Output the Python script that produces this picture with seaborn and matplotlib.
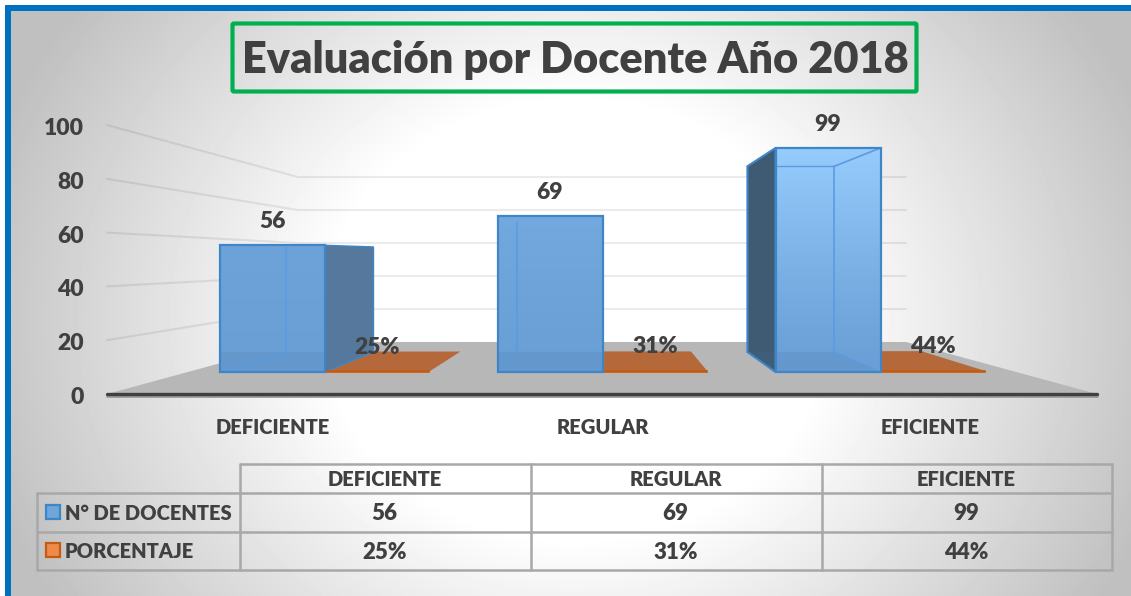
import numpy as np
import pandas as pd
import matplotlib.pyplot as plt
from matplotlib.patches import Polygon, Rectangle, FancyBboxPatch
from matplotlib.colors import LinearSegmentedColormap
import seaborn as sns

categorias = ['DEFICIENTE', 'REGULAR', 'EFICIENTE']
docentes = [56, 69, 99]
porcentaje = [0.25, 0.31, 0.44]
porcentaje_txt = ['25%', '31%', '44%']
serie_docentes = 'N° DE DOCENTES'
serie_porcentaje = 'PORCENTAJE'
ticks_y = [0, 20, 40, 60, 80, 100]
titulo = 'Evaluación por Docente Año 2018'

W, H = 1131, 596
GRIS = '#404040'
FUENTE = 'Lato'
PESO = 'heavy'

sns.set_theme(style='white')
plt.rcParams['font.family'] = [FUENTE, 'DejaVu Sans']
plt.rcParams['font.weight'] = PESO

fig = plt.figure(figsize=(W / 100, H / 100), dpi=100)
fig.patch.set_facecolor('white')


def caja(x0, y0, x1, y1):
    # rect in pixels from the top left -> figure fraction
    return [x0 / W, 1 - y1 / H, (x1 - x0) / W, (y1 - y0) / H]


# fondo / titulo / suelo / tabla, in pixel coords
fondo = fig.add_axes([0, 0, 1, 1], zorder=0)
fondo.set_xlim(0, W)
fondo.set_ylim(H, 0)
fondo.axis('off')

xx, yy = np.meshgrid(np.arange(W), np.arange(H))
d = np.sqrt((xx - 575) ** 2 + (1.15 * (yy - 320)) ** 2)
gris = np.clip(1 - 0.00068 * (d - 250), 0.75, 1)
fondo.imshow(gris, cmap='gray', vmin=0, vmax=1, extent=(0, W, H, 0), aspect='auto', zorder=0)
# marco azul
fondo.add_patch(Rectangle((0, 0), 5, H, color='white', zorder=1))
fondo.add_patch(Rectangle((0, 0), W, 5, color='white', zorder=1))
fondo.add_patch(Rectangle((5, 5), 5.5, H, color='#0070C0', lw=0, zorder=2))
fondo.add_patch(Rectangle((5, 5), W, 6, color='#0070C0', lw=0, zorder=2))

fondo.add_patch(FancyBboxPatch((232.5, 23.5), 684, 68, boxstyle='round,pad=0,rounding_size=1.5',
                               fc='none', ec='#00B050', lw=3, zorder=3))
fondo.text(575, 60, titulo, fontsize=31.2, color=GRIS, ha='center', va='center', fontweight=PESO)

# suelo y lineas de la pared
cerca_0, cerca_k = 394, 2.69
fondo_0, fondo_k = 342, 1.65
fondo.add_patch(Polygon([(107, 394), (298, 342), (906, 342), (1097, 394)], fc='#b7b7b7', ec='none', zorder=2))
for v in ticks_y[1:]:
    y0 = cerca_0 - cerca_k * v
    y1 = fondo_0 - fondo_k * v
    fondo.plot([107, 298, 906], [y0, y1, y1], color='black', alpha=0.08, lw=1.5, zorder=2)
fondo.plot([107, 1097], [395.5, 395.5], color='#9a9a9a', lw=2, zorder=3)
fondo.plot([107, 1097], [394, 394], color='#404040', lw=2.4, zorder=3, solid_capstyle='round')

# tabla
col_x = [240, 531, 822, 1112]
fil_y = [464, 493, 532, 570]
kw = dict(color='#a8a8a8', lw=1.8, zorder=3)
fondo.plot([240, 1112], [464, 464], **kw)
for y in fil_y[1:]:
    fondo.plot([37, 1112], [y, y], **kw)
for x in col_x:
    fondo.plot([x, x], [464, 570], **kw)
fondo.plot([37, 37], [493, 570], **kw)
filas = [categorias, [str(v) for v in docentes], porcentaje_txt]
for i, fila in enumerate(filas):
    yc = (fil_y[i] + fil_y[i + 1]) / 2 + 1.5
    for j, txt in enumerate(fila):
        fondo.text((col_x[j] + col_x[j + 1]) / 2 - 1, yc, txt, fontsize=14.5 if i == 0 else 16, color=GRIS,
                   ha='center', va='center')
for y, nombre, fc, ec in [(512, serie_docentes, '#6fa5d8', '#3f86c8'), (550, serie_porcentaje, '#ee8a4a', '#c55a11')]:
    fondo.add_patch(Rectangle((46, y - 7), 13.5, 14, fc=fc, ec=ec, lw=1.6, zorder=3))
    fondo.text(65, y + 2, nombre, fontsize=14.5, color=GRIS, ha='left', va='center')

# escala del eje y (plano cercano)
ax_y = fig.add_axes(caja(107, cerca_0 + 1.5 - cerca_k * 100, 1097, cerca_0 + 1.5), zorder=1)
ax_y.patch.set_alpha(0)
ax_y.set_ylim(0, 100)
ax_y.set_xticks([])
ax_y.set_yticks(ticks_y)
ax_y.tick_params(axis='y', length=0, pad=16.5, labelsize=16.5, labelcolor=GRIS)
sns.despine(ax=ax_y, left=True, bottom=True)

# barras, plano frontal: y=0 en 372 px, 2.263 px por unidad
k_y = 2.263
k_x = 278
ax = fig.add_axes(caja(0, 0, W, 372), zorder=2)
ax.patch.set_alpha(0)

df = pd.DataFrame({
    'categoria': categorias * 2,
    'serie': [serie_docentes] * 3 + [serie_porcentaje] * 3,
    'valor': docentes + porcentaje,
})
sns.barplot(df, x='categoria', y='valor', hue='serie', palette=['#6fa5d8', '#c55a11'],
            width=0.755, gap=0, legend=False, ax=ax, zorder=5)
ax.set_xlim(-324.5 / k_x, (W - 324.5) / k_x)
ax.set_ylim(0, 372 / k_y)
ax.set_xlabel('')
ax.set_ylabel('')
ax.set_yticks([])
ax.set_xticks([-0.185, 1, 2.178], categorias)
ax.tick_params(axis='x', length=0, pad=33, labelsize=14.5, labelcolor=GRIS)
sns.despine(ax=ax, left=True, bottom=True)

# profundidad: fondo de cada barra hacia el punto de fuga
fuga_x = (611 - 324.5) / k_x
fuga_y = (372 - 255) / k_y
s = 0.829


def atras(x, y):
    return fuga_x + s * (x - fuga_x), fuga_y + s * (y - fuga_y)


BORDE = '#3f86c8'
INTERIOR = '#5a9be0'
degradado = LinearSegmentedColormap.from_list('azul', ['#6a9fd6', '#96ccfd'])

for b in ax.containers[0]:
    x0, x1 = b.get_x(), b.get_x() + b.get_width()
    h = b.get_height()
    xa0, ya_h = atras(x0, h)
    xa1, _ = atras(x1, h)
    _, ya_0 = atras(x0, 0)
    # cara lateral que queda por fuera de la frontal
    if xa0 < x0:
        ax.add_patch(Polygon([(x0, 0), (x0, h), (xa0, ya_h), (xa0, ya_0)], fc='#3f5b73', ec=BORDE, lw=1.5, zorder=3, clip_on=False))
    if xa1 > x1 + 0.01:
        ax.add_patch(Polygon([(x1, 0), (x1, h), (xa1, ya_h), (xa1, ya_0)], fc='#55789c', ec=BORDE, lw=1, zorder=3, clip_on=False))
    # frontal con degradado, mas claro cuanto mas alta la barra
    v = np.linspace(0, 1, 200).reshape(-1, 1) * h
    im = ax.imshow((v / 99) ** 1.2 * (h / 99) ** 3, cmap=degradado, vmin=0, vmax=1, extent=(x0, x1, 0, h),
                   origin='lower', aspect='auto', zorder=6)
    im.set_clip_path(b)
    # suelo dentro de la barra
    xi1 = min(xa1, x1)
    ax.add_patch(Polygon([(x0 if xa0 > x0 else xa0, ya_0), (xi1, ya_0), (x1, 0), (x0, 0)], fc='#44709f', alpha=0.15, ec='none', zorder=7))
    # aristas interiores vistas a traves de la cara frontal
    if xa0 > x0:
        ax.plot([xa0, xa0], [ya_0, ya_h], color=INTERIOR, lw=1.2, zorder=8)
        ax.plot([x0, xa0], [0, ya_0], color=INTERIOR, lw=1, zorder=8)
    if xa1 < x1:
        ax.plot([xa1, xa1], [ya_0, ya_h], color=INTERIOR, lw=1.2, zorder=8)
        ax.plot([x1, xa1], [h, ya_h], color=INTERIOR, lw=1.2, zorder=8)
        ax.plot([x1, xa1], [0, ya_0], color=INTERIOR, lw=1, zorder=8)
        ax.plot([x0, xa1], [ya_h, ya_h], color=INTERIOR, lw=1, zorder=8)
    b.set_facecolor('none')
    b.set_edgecolor(BORDE)
    b.set_linewidth(1.6)
    b.set_clip_on(False)
    b.set_zorder(9)

for b in ax.containers[1]:
    x0, x1 = b.get_x(), b.get_x() + b.get_width()
    h = b.get_height()
    xa0, ya = atras(x0, h)
    xa1, _ = atras(x1, h)
    ax.add_patch(Polygon([(x0, h), (x1, h), (xa1, ya), (xa0, ya)], fc='#b5693a', ec='none', zorder=2, clip_on=False))
    b.set_edgecolor('#c55a11')
    b.set_linewidth(1.2)
    b.set_clip_on(False)
    b.set_zorder(4)

ax.bar_label(ax.containers[0], labels=[str(v) for v in docentes], padding=9.5, fontsize=16.5, color=GRIS, zorder=12)
ax.bar_label(ax.containers[1], labels=porcentaje_txt, padding=10, fontsize=16.5, color=GRIS, zorder=12)

plt.savefig('out.png', dpi=100)
